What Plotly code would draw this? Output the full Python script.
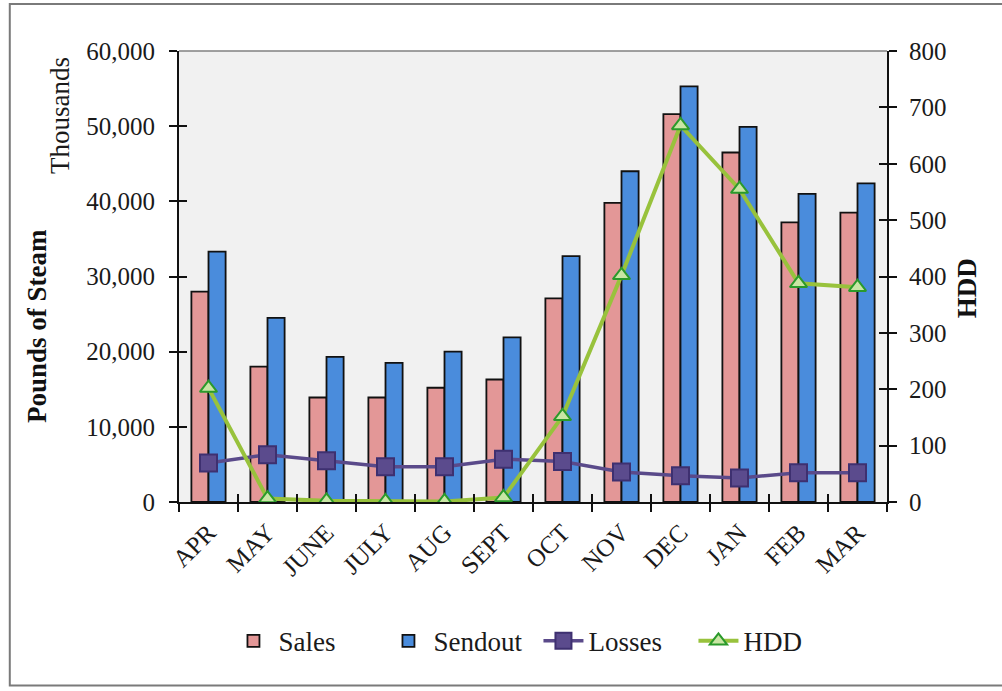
import plotly.graph_objects as go

months = ["APR", "MAY", "JUNE", "JULY", "AUG", "SEPT", "OCT", "NOV", "DEC", "JAN", "FEB", "MAR"]
sales = [28000, 18000, 13900, 13900, 15200, 16300, 27100, 39800, 51600, 46500, 37200, 38500]
sendout = [33300, 24500, 19300, 18500, 20000, 21900, 32700, 44000, 55300, 49900, 41000, 42400]
losses = [5200, 6300, 5500, 4700, 4700, 5700, 5400, 4000, 3500, 3200, 3900, 3900]
hdd = [202, 6, 2, 1, 1, 8, 152, 402, 668, 555, 388, 381]

FONT = "Liberation Serif"
TICKFONT = dict(family=FONT, size=25, color="#1a1a1a")
XRANGE = [-0.5, len(months) - 0.5]

fig = go.Figure()
fig.add_trace(go.Bar(x=months, y=sales, name="Sales", textfont=dict(family=FONT),
                     marker=dict(color="#e39797", line=dict(color="#111111", width=1.8))))
fig.add_trace(go.Bar(x=months, y=sendout, name="Sendout", textfont=dict(family=FONT),
                     marker=dict(color="#4a8cdc", line=dict(color="#111111", width=1.8))))
fig.add_trace(go.Scatter(x=months, y=losses, name="Losses", mode="lines+markers",
                         line=dict(color="#5a4a8a", width=3.5),
                         marker=dict(symbol="square", size=17, color="#5b4b8d",
                                     line=dict(color="#3e3070", width=2))))
fig.add_trace(go.Scatter(x=months, y=hdd, name="HDD", mode="lines+markers", yaxis="y2",
                         line=dict(color="#98c23c", width=4),
                         marker=dict(symbol="triangle-up", size=15, color="#c9e6a4",
                                     line=dict(color="#2b9a2b", width=2))))
# invisible helper traces so the inner half of the crossing tick marks is drawn
fig.add_trace(go.Scatter(x=months, y=[None] * len(months), xaxis="x2", yaxis="y3",
                         showlegend=False, hoverinfo="skip"))
fig.add_trace(go.Scatter(x=months, y=[None] * len(months), xaxis="x2", yaxis="y4",
                         showlegend=False, hoverinfo="skip"))

tick_common = dict(ticklen=8, tickwidth=1.5, tickcolor="#111111", showgrid=False, zeroline=False)

fig.update_layout(
    width=1002, height=691,
    margin=dict(l=179, r=115, t=51, b=189),
    paper_bgcolor="white",
    plot_bgcolor="#f1f1f1",
    font=dict(family=FONT, size=25, color="#1a1a1a"),
    barmode="group", bargap=0.42, bargroupgap=0,
    showlegend=True,
    legend=dict(orientation="h", xref="container", yref="container",
                x=0.228, y=0.072, xanchor="left", yanchor="middle",
                font=dict(family=FONT, size=27, color="#1a1a1a"),
                bgcolor="rgba(0,0,0,0)", itemwidth=40, tracegroupgap=0,
                entrywidth=100, entrywidthmode="pixels"),
    xaxis=dict(type="category", range=XRANGE, tickangle=-45, showline=True,
               linecolor="#111111", linewidth=2, ticks="outside", tickson="boundaries",
               tickfont=TICKFONT, ticklabelstandoff=4, **tick_common),
    xaxis2=dict(type="category", range=XRANGE, overlaying="x", anchor="y3", side="bottom",
                categoryorder="array", categoryarray=months,
                showline=False, ticks="inside", tickson="boundaries", showticklabels=False,
                **tick_common),
    yaxis=dict(range=[0, 60000], dtick=10000, tickformat=",", showline=True,
               linecolor="#111111", linewidth=2, ticks="outside", tickfont=TICKFONT,
               ticklabelstandoff=9, **tick_common),
    yaxis2=dict(range=[0, 800], dtick=100, overlaying="y", side="right", showline=True,
                linecolor="#111111", linewidth=2, ticks="outside", tickfont=TICKFONT,
                ticklabelstandoff=7, **tick_common),
    yaxis3=dict(range=[0, 60000], dtick=10000, overlaying="y", side="left", anchor="x2",
                showline=False, ticks="inside", showticklabels=False, **tick_common),
    yaxis4=dict(range=[0, 800], dtick=100, overlaying="y", side="right", anchor="x2",
                showline=False, ticks="inside", showticklabels=False, **tick_common),
    shapes=[
        dict(type="line", xref="paper", yref="paper", x0=0, x1=1, y0=1, y1=1,
             line=dict(color="#808080", width=1.5)),
        dict(type="rect", xref="paper", yref="paper", x0=-0.239, x1=1.19, y0=-0.407, y1=1.104,
             line=dict(color="#7a7a7a", width=2), fillcolor="rgba(0,0,0,0)", layer="below"),
    ],
    annotations=[
        dict(text="<b>Pounds of Steam</b>", xref="paper", yref="paper", x=-0.2006, y=0.39,
             xanchor="center", yanchor="middle",
             textangle=-90, showarrow=False, font=dict(family=FONT, size=27, color="#111111")),
        dict(text="Thousands", xref="paper", yref="paper", x=-0.168, y=0.856,
             xanchor="center", yanchor="middle",
             textangle=-90, showarrow=False, font=dict(family=FONT, size=27, color="#1a1a1a")),
        dict(text="<b>HDD</b>", xref="paper", yref="paper", x=1.113, y=0.474,
             xanchor="center", yanchor="middle",
             textangle=-90, showarrow=False, font=dict(family=FONT, size=27, color="#111111")),
    ],
)

fig.write_html("out.html")
